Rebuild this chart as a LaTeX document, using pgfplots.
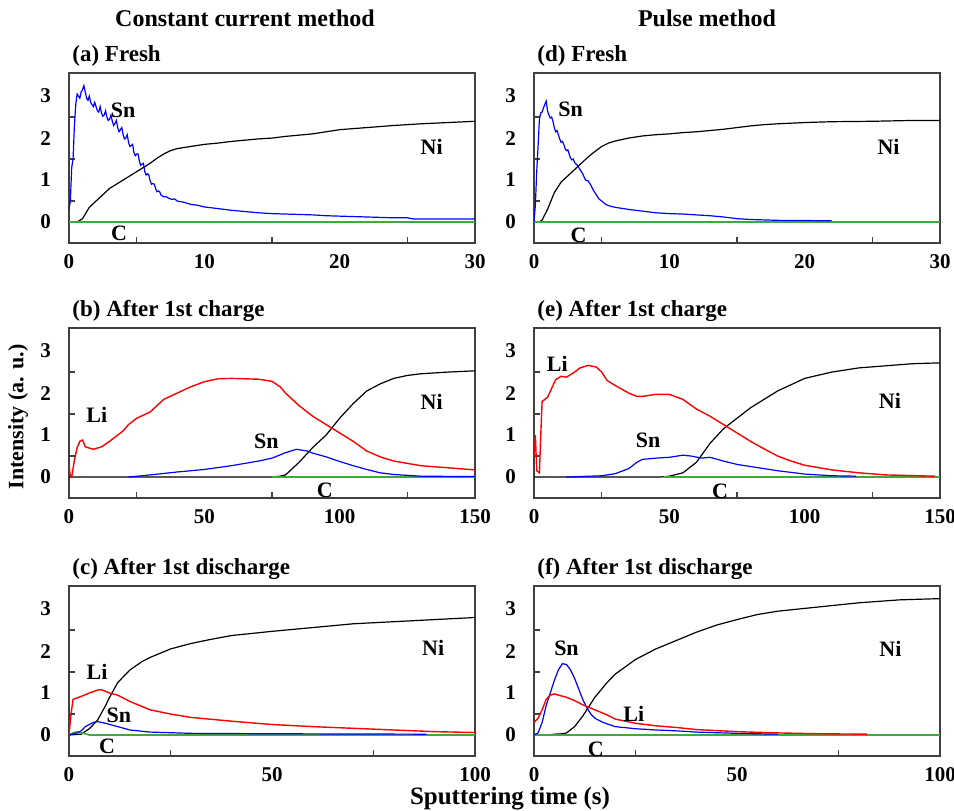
\documentclass[border=0pt]{standalone}
\usepackage{fontspec}
\setmainfont{Liberation Serif}
\usepackage{pgfplots}
\pgfplotsset{compat=1.18}
\definecolor{cgreen}{RGB}{60,170,60}

\tikzset{lab/.style={font=\fontsize{11}{12}\selectfont\bfseries}}
\pgfplotsset{
  panel/.style={
    scale only axis, width=203pt, height=85pt, anchor=south west,
    ymin=-0.5, ymax=3.55, ytick={0,1,2,3}, minor y tick num=1,
    xmin=0, minor x tick num=1,
    tick align=inside, xtick pos=bottom, ytick pos=left,
    major tick length=0pt, minor tick length=3pt,
    axis line style={black!75, line width=0.7pt},
    every minor tick/.style={black!75, line width=0.6pt},
    tick label style={font=\fontsize{10.5}{12}\selectfont\bfseries},
    /pgf/number format/assume math mode=true,
    yticklabel style={xshift=-5.5pt}, xticklabel style={yshift=-2pt},
    title style={at={(0,1)}, anchor=base west, yshift=0pt, xshift=1.5pt,
      inner sep=0pt, font=\fontsize{11.5}{13}\selectfont\bfseries},
  },
  sn/.style={blue, line width=0.6pt, no marks},
  ni/.style={black, line width=0.6pt, no marks},
  li/.style={red, line width=0.7pt, no marks},
  cc/.style={cgreen, line width=0.8pt, no marks},
}

\begin{document}
\begin{tikzpicture}
\useasboundingbox (0,0) rectangle (477pt,-405pt);

\node[font=\fontsize{12}{14}\selectfont\bfseries] at (122.5pt,-9pt) {Constant current method};
\node[font=\fontsize{12}{14}\selectfont\bfseries] at (353.5pt,-9pt) {Pulse method};
\node[rotate=90, font=\fontsize{11}{13}\selectfont\bfseries] at (9pt,-208.5pt) {Intensity (a. u.)};
\node[font=\fontsize{12.5}{14}\selectfont\bfseries] at (255pt,-399.5pt) {Sputtering time (s)};

% (a) Fresh, constant current
\begin{axis}[panel, at={(34.5pt,-121.5pt)}, xmax=30, xtick={0,10,20,30}, title={(a) Fresh}]
\addplot[ni] coordinates {(0,0) (0.5,0) (0.7,0.02) (1,0.08) (1.5,0.35) (2,0.5) (2.5,0.65) (3,0.8) (3.5,0.9) (4,1.0) (4.5,1.1) (5,1.2) (5.5,1.3) (6,1.4) (6.5,1.52) (7,1.62) (7.5,1.7) (8,1.75) (9,1.8) (10,1.85) (11,1.88) (12,1.92) (13,1.95) (14,1.98) (15,2.0) (16,2.04) (17,2.07) (18,2.1) (19,2.15) (20,2.2) (22,2.25) (24,2.3) (26,2.34) (28,2.37) (30,2.4)};
\addplot[cc] coordinates {(0,0) (30,0)};
\addplot[sn] coordinates {(0,0.3) (0.1,0.5) (0.2,1.3) (0.3,1.5) (0.4,2.3) (0.5,2.8) (0.6,3.05) (0.7,3.0) (0.8,2.95) (0.9,3.1) (1.0,3.15) (1.1,3.25) (1.2,3.1) (1.3,2.95) (1.4,2.9) (1.5,3.0) (1.6,2.85) (1.7,2.8) (1.8,2.75) (1.9,2.85) (2.0,2.75) (2.1,2.65) (2.2,2.62) (2.3,2.75) (2.4,2.6) (2.5,2.52) (2.6,2.55) (2.7,2.65) (2.8,2.5) (2.9,2.42) (3.0,2.45) (3.1,2.55) (3.2,2.4) (3.3,2.3) (3.4,2.35) (3.5,2.42) (3.6,2.25) (3.7,2.15) (3.8,2.2) (3.9,2.25) (4.0,2.08) (4.1,1.98) (4.2,2.0) (4.3,2.08) (4.4,1.9) (4.5,1.8) (4.6,1.82) (4.7,1.85) (4.8,1.65) (4.9,1.58) (5.0,1.62) (5.1,1.62) (5.2,1.45) (5.3,1.35) (5.4,1.38) (5.5,1.4) (5.6,1.2) (5.7,1.12) (5.8,1.15) (5.9,1.12) (6.0,0.98) (6.1,0.9) (6.2,0.92) (6.3,0.9) (6.4,0.8) (6.5,0.72) (6.6,0.74) (6.7,0.72) (6.8,0.64) (7.0,0.6) (7.2,0.6) (7.4,0.56) (7.6,0.54) (7.8,0.55) (8.0,0.5) (8.5,0.47) (9,0.42) (9.5,0.4) (10,0.36) (11,0.32) (12,0.28) (13,0.25) (14,0.22) (15,0.2) (16,0.19) (17,0.18) (18,0.17) (19,0.15) (20,0.14) (21,0.13) (22,0.12) (23,0.11) (24,0.1) (25,0.1) (25.5,0.07) (30,0.07)};
\node[lab] at (axis cs:4.0,2.67) {Sn};
\node[lab] at (axis cs:26.8,1.8) {Ni};
\node[lab] at (axis cs:3.7,-0.27) {C};
\end{axis}

% (d) Fresh, pulse
\begin{axis}[panel, at={(267pt,-121.5pt)}, xmax=30, xtick={0,10,20,30}, title={(d) Fresh}]
\addplot[ni] coordinates {(0,0) (0.4,0) (0.6,0.05) (1,0.3) (1.5,0.7) (2,0.95) (2.5,1.1) (3,1.25) (3.5,1.4) (4,1.55) (4.5,1.68) (5,1.8) (5.5,1.88) (6,1.93) (7,2.0) (8,2.05) (9,2.08) (10,2.1) (11,2.13) (12,2.15) (13,2.18) (14,2.21) (15,2.25) (16,2.29) (17,2.32) (18,2.34) (20,2.37) (22,2.39) (25,2.4) (28,2.42) (30,2.42)};
\addplot[cc] coordinates {(0,0) (30,0)};
\addplot[sn] coordinates {(0,0) (0.1,0.4) (0.2,1.2) (0.3,1.8) (0.4,2.45) (0.5,2.6) (0.6,2.62) (0.7,2.72) (0.8,2.8) (0.9,2.88) (1.0,2.65) (1.1,2.55) (1.2,2.48) (1.3,2.5) (1.4,2.4) (1.5,2.25) (1.6,2.15) (1.7,2.18) (1.8,2.08) (1.9,1.98) (2.0,1.9) (2.1,1.92) (2.2,1.85) (2.3,1.75) (2.4,1.7) (2.5,1.72) (2.6,1.62) (2.7,1.52) (2.8,1.48) (2.9,1.5) (3.0,1.42) (3.2,1.35) (3.4,1.25) (3.6,1.15) (3.8,1.0) (4.0,0.98) (4.2,0.88) (4.4,0.75) (4.6,0.65) (4.8,0.55) (5.0,0.5) (5.3,0.42) (5.6,0.38) (6,0.35) (7,0.3) (8,0.26) (9,0.22) (10,0.2) (11,0.19) (12,0.17) (13,0.15) (14,0.12) (15,0.08) (16,0.06) (18,0.04) (22,0.03)};
\node[lab] at (axis cs:2.7,2.68) {Sn};
\node[lab] at (axis cs:26.2,1.79) {Ni};
\node[lab] at (axis cs:3.3,-0.32) {C};
\end{axis}

% (b) After 1st charge, constant current
\begin{axis}[panel, at={(34.5pt,-249pt)}, xmax=150, xtick={0,50,100,150}, title={(b) After 1st charge}]
\addplot[ni] coordinates {(0,0) (75,0) (78,0.02) (80,0.05) (85,0.35) (90,0.7) (95,1.0) (100,1.4) (105,1.75) (110,2.05) (115,2.22) (120,2.35) (125,2.42) (130,2.46) (140,2.5) (150,2.53)};
\addplot[cc] coordinates {(75,0) (150,0)};
\addplot[sn] coordinates {(22,0) (30,0.05) (40,0.12) (50,0.18) (60,0.27) (70,0.38) (75,0.45) (80,0.58) (84,0.66) (88,0.62) (90,0.57) (95,0.48) (100,0.37) (105,0.27) (110,0.18) (115,0.1) (120,0.06) (130,0.02) (150,0.01)};
\addplot[li] coordinates {(0,0.3) (0.5,0) (1,0) (2,0.4) (3,0.7) (4,0.85) (5,0.88) (6,0.72) (7,0.7) (9,0.66) (12,0.72) (15,0.85) (20,1.1) (22,1.25) (25,1.4) (30,1.55) (35,1.85) (40,2.0) (45,2.15) (50,2.27) (55,2.34) (60,2.35) (65,2.34) (70,2.33) (75,2.28) (78,2.15) (80,2.0) (85,1.7) (90,1.45) (95,1.25) (100,1.05) (105,0.85) (110,0.62) (115,0.48) (120,0.38) (130,0.27) (140,0.22) (150,0.17)};
\node[lab] at (axis cs:10.3,1.48) {Li};
\node[lab] at (axis cs:72.9,0.85) {Sn};
\node[lab] at (axis cs:134,1.8) {Ni};
\node[lab] at (axis cs:94.5,-0.31) {C};
\end{axis}

% (e) After 1st charge, pulse
\begin{axis}[panel, at={(267pt,-249pt)}, xmax=150, xtick={0,50,100,150}, title={(e) After 1st charge}]
\addplot[ni] coordinates {(0,0) (47,0) (50,0.02) (55,0.1) (60,0.35) (65,0.8) (70,1.15) (75,1.4) (80,1.65) (85,1.85) (90,2.05) (95,2.2) (100,2.35) (110,2.5) (120,2.6) (130,2.65) (140,2.7) (150,2.72)};
\addplot[cc] coordinates {(48,0) (150,0)};
\addplot[sn] coordinates {(12,0) (25,0.03) (30,0.08) (35,0.2) (38,0.35) (40,0.42) (45,0.45) (50,0.47) (55,0.52) (58,0.5) (62,0.45) (65,0.47) (70,0.38) (75,0.3) (80,0.25) (90,0.15) (100,0.07) (110,0.03) (119,0.02)};
\addplot[li] coordinates {(0,0.5) (0.5,1.0) (1,0.15) (2,0.1) (2.5,1.0) (3,1.8) (5,1.9) (8,2.32) (10,2.4) (12,2.38) (15,2.5) (17,2.6) (20,2.66) (23,2.62) (25,2.5) (27,2.3) (30,2.18) (35,2.0) (38,1.92) (40,1.92) (45,1.97) (50,1.97) (55,1.85) (60,1.62) (65,1.45) (70,1.25) (75,1.05) (80,0.85) (85,0.67) (90,0.5) (95,0.38) (100,0.28) (110,0.17) (120,0.1) (130,0.05) (148,0.02)};
\node[lab] at (axis cs:8.6,2.7) {Li};
\node[lab] at (axis cs:42.2,0.87) {Sn};
\node[lab] at (axis cs:131.5,1.82) {Ni};
\node[lab] at (axis cs:68.7,-0.33) {C};
\end{axis}

% (c) After 1st discharge, constant current
\begin{axis}[panel, at={(34.5pt,-378pt)}, xmax=100, xtick={0,50,100}, title={(c) After 1st discharge}]
\addplot[ni] coordinates {(0,0) (3,0.02) (5,0.15) (7,0.35) (9,0.7) (10,0.9) (12,1.25) (15,1.55) (18,1.75) (20,1.85) (25,2.05) (30,2.18) (35,2.28) (40,2.37) (50,2.47) (60,2.56) (70,2.65) (80,2.7) (90,2.75) (100,2.8)};
\addplot[cc] coordinates {(0,0) (1,0.05) (2,0.08) (4,0.03) (5,0) (100,0)};
\addplot[sn] coordinates {(0,0) (2,0.05) (3,0.1) (4,0.2) (6,0.3) (7,0.32) (9,0.28) (12,0.2) (15,0.12) (20,0.07) (30,0.04) (50,0.03) (88,0.02)};
\addplot[li] coordinates {(0,0) (0.5,0.5) (1,0.85) (3,0.92) (5,1.0) (7,1.07) (8,1.08) (10,1.0) (12,0.95) (15,0.8) (20,0.6) (25,0.5) (30,0.42) (40,0.33) (50,0.25) (60,0.2) (70,0.16) (80,0.12) (90,0.08) (100,0.06)};
\node[lab] at (axis cs:6.9,1.5) {Li};
\node[lab] at (axis cs:12.3,0.48) {Sn};
\node[lab] at (axis cs:89.7,2.08) {Ni};
\node[lab] at (axis cs:9.4,-0.26) {C};
\end{axis}

% (f) After 1st discharge, pulse
\begin{axis}[panel, at={(267pt,-378pt)}, xmax=100, xtick={0,50,100}, title={(f) After 1st discharge}]
\addplot[ni] coordinates {(0,0) (3,0) (5,0.02) (7,0.03) (8,0.05) (10,0.2) (12,0.45) (15,0.9) (18,1.25) (20,1.45) (25,1.8) (30,2.05) (35,2.25) (40,2.45) (45,2.62) (50,2.75) (55,2.87) (60,2.95) (70,3.05) (80,3.15) (90,3.22) (100,3.25)};
\addplot[cc] coordinates {(0,0) (100,0)};
\addplot[sn] coordinates {(0,0) (1,0.05) (2,0.3) (3,0.7) (4,1.0) (5,1.3) (6,1.55) (7,1.7) (8,1.68) (9,1.55) (10,1.35) (11,1.1) (12,0.85) (13,0.65) (14,0.5) (15,0.4) (17,0.3) (20,0.2) (25,0.15) (30,0.12) (35,0.1) (40,0.07) (50,0.04) (60,0.02)};
\addplot[li] coordinates {(0,0.3) (1,0.4) (2,0.6) (3,0.85) (4,0.95) (5,0.98) (6,0.95) (8,0.9) (10,0.82) (12,0.72) (15,0.6) (18,0.48) (20,0.38) (25,0.28) (30,0.22) (35,0.18) (40,0.13) (50,0.08) (60,0.05) (70,0.03) (82,0.02)};
\node[lab] at (axis cs:8.0,2.06) {Sn};
\node[lab] at (axis cs:24.6,0.5) {Li};
\node[lab] at (axis cs:87.8,2.06) {Ni};
\node[lab] at (axis cs:15.2,-0.35) {C};
\end{axis}
\end{tikzpicture}
\end{document}
